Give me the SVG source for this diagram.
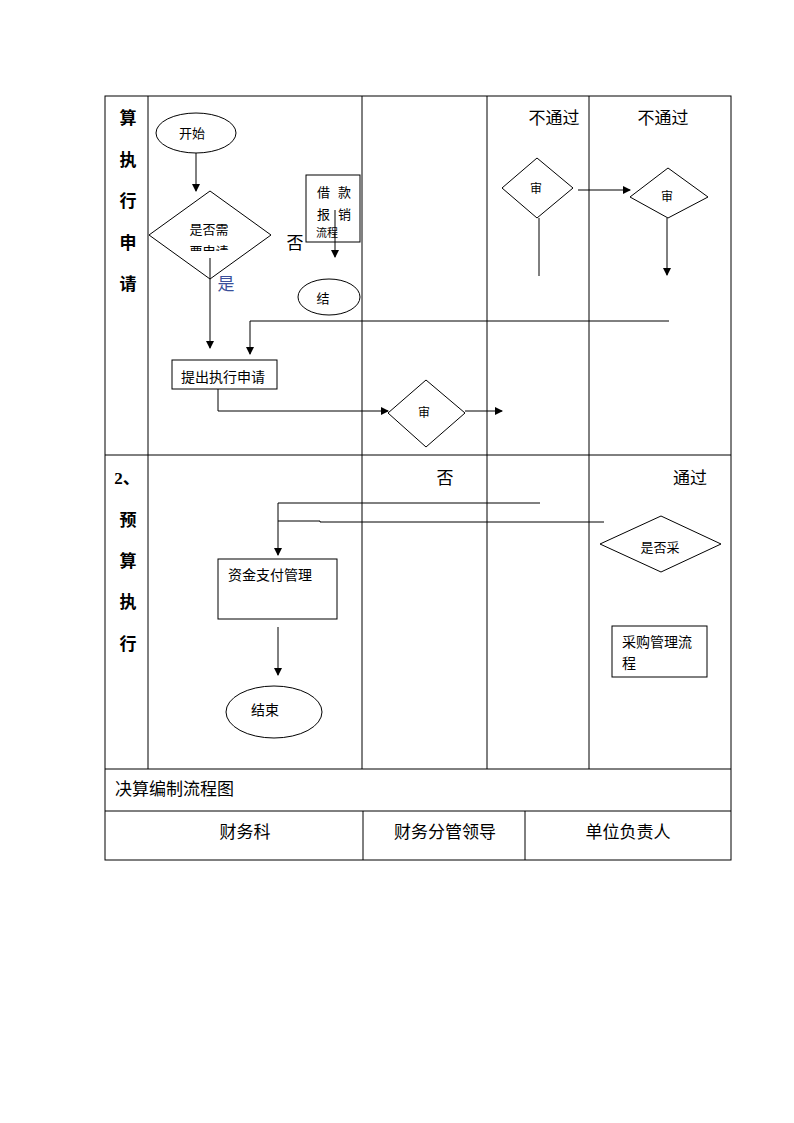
<svg xmlns="http://www.w3.org/2000/svg" width="794" height="1123" viewBox="0 0 794 1123">
<style>
.ln{stroke:#000;stroke-width:1;fill:none}
.sh{stroke:#000;stroke-width:1;fill:#fff}
.t{font-family:"Liberation Sans","Noto Sans CJK SC",sans-serif;font-size:13px;fill:#000}
.s{font-family:"Liberation Serif","Noto Sans CJK SC",serif;font-size:17px;fill:#000}
.b{font-family:"Liberation Serif","Noto Sans CJK SC",serif;font-size:17px;font-weight:bold;fill:#000}
</style>
<defs>
<marker id="ar" markerWidth="8" markerHeight="8" refX="7" refY="4" orient="auto" markerUnits="userSpaceOnUse">
<path d="M0,0 L8,4 L0,8 z" fill="#000"/>
</marker>
<clipPath id="c1"><rect x="150" y="192" width="120" height="59"/></clipPath>
</defs>
<rect width="794" height="1123" fill="#fff"/>
<g id="table" class="ln">
<rect x="105" y="96" width="626" height="764"/>
<line x1="105" y1="455" x2="731" y2="455"/>
<line x1="105" y1="769" x2="731" y2="769"/>
<line x1="105" y1="811" x2="731" y2="811"/>
<line x1="148" y1="96" x2="148" y2="769"/>
<line x1="362" y1="96" x2="362" y2="769"/>
<line x1="487" y1="96" x2="487" y2="769"/>
<line x1="589" y1="96" x2="589" y2="769"/>
<line x1="363" y1="811" x2="363" y2="860"/>
<line x1="525" y1="811" x2="525" y2="860"/>
</g>
<g id="labels">
<text class="b" x="128" y="124" text-anchor="middle">算</text>
<text class="b" x="128" y="166" text-anchor="middle">执</text>
<text class="b" x="128" y="207" text-anchor="middle">行</text>
<text class="b" x="128" y="249" text-anchor="middle">申</text>
<text class="b" x="128" y="290" text-anchor="middle">请</text>
<text class="b" x="127" y="484" text-anchor="middle">2、</text>
<text class="b" x="128" y="526" text-anchor="middle">预</text>
<text class="b" x="128" y="567" text-anchor="middle">算</text>
<text class="b" x="128" y="608" text-anchor="middle">执</text>
<text class="b" x="128" y="650" text-anchor="middle">行</text>
<text class="s" x="554" y="124" text-anchor="middle">不通过</text>
<text class="s" x="663" y="124" text-anchor="middle">不通过</text>
<text class="s" x="295" y="249" text-anchor="middle">否</text>
<text class="s" x="226" y="290" text-anchor="middle" style="fill:#3a4f9a">是</text>
<text class="s" x="445" y="484" text-anchor="middle">否</text>
<text class="s" x="690" y="484" text-anchor="middle">通过</text>
<text class="s" x="115" y="795">决算编制流程图</text>
<text class="s" x="245" y="838" text-anchor="middle">财务科</text>
<text class="s" x="445" y="838" text-anchor="middle">财务分管领导</text>
<text class="s" x="628" y="838" text-anchor="middle">单位负责人</text>
</g>
<g id="connectors" class="ln">
<line x1="196" y1="153" x2="196" y2="191" marker-end="url(#ar)"/>
<line x1="210" y1="258" x2="210" y2="348" marker-end="url(#ar)"/>
<line x1="335" y1="210" x2="335" y2="257" marker-end="url(#ar)"/>
<polyline points="669,321 250,321 250,354" marker-end="url(#ar)"/>
<polyline points="218,389 218,411 388,411" marker-end="url(#ar)"/>
<line x1="465" y1="411" x2="502" y2="411" marker-end="url(#ar)"/>
<line x1="539" y1="218" x2="539" y2="276"/>
<line x1="578" y1="190" x2="630" y2="190" marker-end="url(#ar)"/>
<line x1="667" y1="218" x2="667" y2="275" marker-end="url(#ar)"/>
<polyline points="540,503 278,503 278,555" marker-end="url(#ar)"/>
<polyline points="604,522 320,522 320,521 278,521"/>
<line x1="278" y1="627" x2="278" y2="675" marker-end="url(#ar)"/>
</g>
<g id="n_start">
<ellipse class="sh" cx="196" cy="133" rx="40" ry="20"/>
<text class="t" x="192" y="138" text-anchor="middle">开始</text>
</g>
<g id="n_need">
<polygon class="sh" points="210,191 271,235 210,279 149,235" style="fill:none"/>
<g clip-path="url(#c1)">
<text class="t" x="209" y="234" text-anchor="middle">是否需</text>
<text class="t" x="209" y="256" text-anchor="middle">要申请</text>
</g>
</g>
<g id="n_loan">
<rect class="sh" x="306" y="175" width="54" height="67" style="fill:none"/>
<text class="t" x="317" y="197">借</text>
<text class="t" x="338" y="197">款</text>
<text class="t" x="317" y="219">报</text>
<text class="t" x="338" y="219">销</text>
<text class="t" x="316" y="237" style="font-size:11px">流程</text>
</g>
<g id="n_end1">
<ellipse class="sh" cx="329" cy="297" rx="31" ry="18"/>
<text class="t" x="323" y="303" text-anchor="middle">结</text>
</g>
<g id="n_apply">
<rect class="sh" x="172" y="360" width="105" height="29"/>
<text class="t" x="223" y="382" text-anchor="middle" style="font-size:14px">提出执行申请</text>
</g>
<g id="n_rev1">
<polygon class="sh" points="426,380 465,413 426,447 388,413"/>
<text class="t" x="424" y="417" text-anchor="middle" style="font-size:12px">审</text>
</g>
<g id="n_rev2">
<polygon class="sh" points="537,158 573,188 537,218 502,188"/>
<text class="t" x="536" y="193" text-anchor="middle" style="font-size:12px">审</text>
</g>
<g id="n_rev3">
<polygon class="sh" points="668,168 708,197 668,218 630,197"/>
<text class="t" x="667" y="201" text-anchor="middle" style="font-size:12px">审</text>
</g>
<g id="n_pay">
<rect class="sh" x="218" y="559" width="119" height="60"/>
<text class="t" x="270" y="580" text-anchor="middle" style="font-size:14px">资金支付管理</text>
</g>
<g id="n_end2">
<ellipse class="sh" cx="274" cy="712" rx="48" ry="26"/>
<text class="t" x="265" y="715" text-anchor="middle" style="font-size:14px">结束</text>
</g>
<g id="n_purch">
<polygon class="sh" points="661,516 721,544 661,572 600,544"/>
<text class="t" x="660" y="552" text-anchor="middle">是否采</text>
</g>
<g id="n_purchflow">
<rect class="sh" x="612" y="626" width="95" height="51"/>
<text class="t" x="622" y="647" style="font-size:14px">采购管理流</text>
<text class="t" x="622" y="668" style="font-size:14px">程</text>
</g>
</svg>
